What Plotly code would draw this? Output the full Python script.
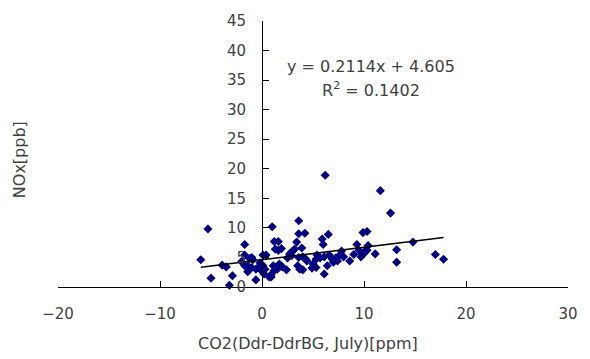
import plotly.graph_objects as go

# CO2 difference (x) and NOx (y)
x_vals = [-6.0, -5.3, -5.0, -3.9, -3.5, -3.2, -2.9, -1.7, -1.7, -2.0, -1.7, -1.4, -1.4, -1.2,
          -1.0, -0.9, -1.0, -0.6, -0.4, -0.2, -0.1, -0.6, 0.1, 0.3, 0.4, 0.1, 0.0, 0.2, 0.7,
          0.9, 0.9, 1.0, 1.1, 1.2, 1.3, 1.6, 1.6, 1.5, 1.7, 1.9, 1.2, 2.0, 2.4, 2.5, 2.7,
          2.9, 3.0, 3.2, 3.4, 3.5, 3.6, 3.6, 3.7, 3.9, 4.0, 4.0, 4.2, 4.3, 4.4, 3.6, 4.9,
          5.0, 5.3, 5.3, 5.4, 5.6, 5.7, 5.9, 6.0, 6.1, 6.1, 6.2, 6.4, 6.5, 6.6, 6.9, 7.0,
          7.2, 7.4, 7.5, 7.8, 8.0, 8.6, 9.0, 9.3, 9.5, 9.7, 9.9, 9.9, 10.1, 10.3, 10.3,
          10.4, 11.1, 11.6, 12.6, 13.2, 13.2, 14.8, 17.0, 17.8]
y_vals = [4.6, 9.8, 1.5, 3.7, 3.4, 0.3, 1.9, 7.2, 5.4, 4.3, 3.6, 3.6, 2.6, 4.8,
          5.0, 4.6, 3.3, 1.2, 3.3, 4.1, 2.9, 3.0, 5.4, 3.0, 5.4, 3.6, 2.7, 2.2, 1.7,
          2.1, 1.7, 10.2, 3.6, 7.7, 6.4, 7.7, 6.2, 3.0, 3.9, 6.5, 2.8, 3.4, 2.9, 4.9, 5.6,
          5.3, 6.1, 6.4, 7.6, 3.6, 11.2, 9.0, 3.0, 6.6, 2.9, 5.1, 9.1, 4.7, 4.4, 5.0, 3.2,
          3.9, 4.7, 3.3, 5.4, 5.1, 4.9, 8.1, 7.2, 5.1, 2.2, 18.9, 3.6, 8.9, 5.4, 4.7, 4.2,
          4.9, 4.4, 5.2, 6.1, 5.1, 4.4, 5.5, 7.2, 6.2, 5.1, 9.2, 5.5, 6.1, 9.4, 6.2,
          7.0, 5.6, 16.3, 12.5, 6.3, 4.2, 7.6, 5.5, 4.7]

# Linear trend (from the chart's equation) and its x extent
slope = 0.2114
intercept = 4.605
trend_x = [-6.0, 17.8]
trend_y = [slope * v + intercept for v in trend_x]

x_ticks = [-20, -10, 0, 10, 20, 30]
y_ticks = [0, 5, 10, 15, 20, 25, 30, 35, 40, 45]

font_family = "DejaVu Sans, Verdana, sans-serif"
text_color = "#404040"

# plot area in pixels: left 58, right 572, top 15, bottom 287
PW, PH = 514, 272

fig = go.Figure()
fig.add_trace(go.Scatter(
    x=x_vals, y=y_vals, mode="markers",
    marker=dict(symbol="diamond", size=7, color="#000080"),
    showlegend=False, cliponaxis=False,
))
fig.add_trace(go.Scatter(
    x=trend_x, y=trend_y, mode="lines",
    line=dict(color="black", width=1.6), showlegend=False,
))

fig.update_layout(
    width=590, height=359,
    margin=dict(l=58, r=18, t=15, b=72),
    paper_bgcolor="white", plot_bgcolor="white",
    font=dict(family=font_family, color=text_color),
    xaxis=dict(
        range=[-20, 30], tickvals=x_ticks, ticks="inside", ticklen=6,
        tickcolor="black", showline=True, linecolor="black", linewidth=1,
        showgrid=False, zeroline=False, domain=[0, 1],
        tickfont=dict(size=15, color=text_color), ticklabelstandoff=13,
    ),
    yaxis=dict(
        range=[0, 45], tickvals=y_ticks, ticks="inside", ticklen=6,
        tickcolor="black", showline=True, linecolor="black", linewidth=1,
        showgrid=False, zeroline=False, anchor="free", position=0.4,
        tickfont=dict(size=15, color=text_color), ticklabelstandoff=13,
    ),
    annotations=[
        dict(text="CO2(Ddr-DdrBG, July)[ppm]", xref="paper", yref="paper",
             x=(310 - 58) / PW, y=-(345 - 287) / PH,
             showarrow=False, font=dict(size=16, color=text_color),
             xanchor="center", yanchor="middle"),
        dict(text="NOx[ppb]", xref="paper", yref="paper",
             x=(20 - 58) / PW, y=(287 - 157) / PH, textangle=-90,
             showarrow=False, font=dict(size=16, color=text_color),
             xanchor="center", yanchor="middle"),
        dict(text="y = 0.2114x + 4.605", xref="paper", yref="paper",
             x=(373 - 58) / PW, y=(287 - 62) / PH, showarrow=False,
             font=dict(size=16, color=text_color), xanchor="center", yanchor="middle"),
        dict(text="R<sup>2</sup> = 0.1402", xref="paper", yref="paper",
             x=(373 - 58) / PW, y=(287 - 85) / PH, showarrow=False,
             font=dict(size=16, color=text_color), xanchor="center", yanchor="middle"),
    ],
)

fig.write_html("out.html")
